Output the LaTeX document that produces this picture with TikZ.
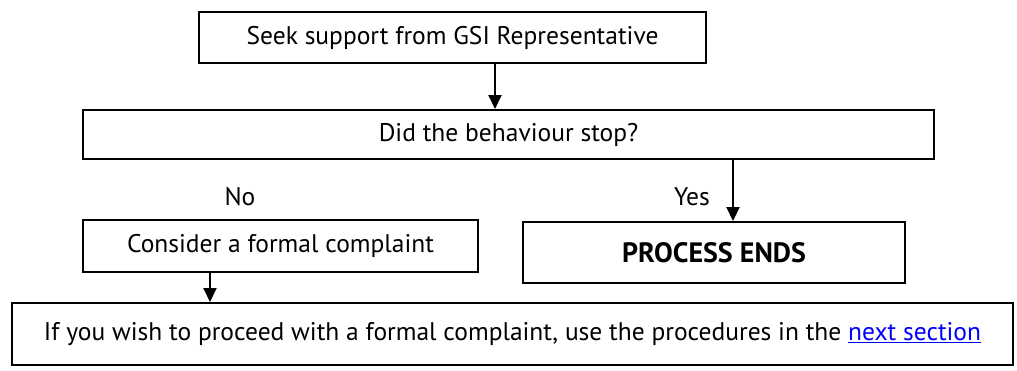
\documentclass[tikz,border=0pt]{standalone}
\usepackage{fontspec}
\setmainfont{PT Sans}
\usetikzlibrary{arrows.meta}
\definecolor{linkblue}{RGB}{0,0,255}
\tikzset{
  box/.style={draw=black, line width=2pt, rectangle, inner sep=0pt, anchor=center, font=\fontsize{25.5}{30}\selectfont},
  lbl/.style={inner sep=0pt, anchor=center, font=\fontsize{25.5}{30}\selectfont},
  arr/.style={line width=2pt, -{Triangle[width=13pt,length=14pt]}}
}
\begin{document}
\begin{tikzpicture}[x=1pt,y=-1pt]
\useasboundingbox (0,0) rectangle (1017,370);
\node[box, minimum width=507pt, minimum height=51pt] (seek) at (452.5,37.5) {Seek support from GSI Representative};
\node[box, minimum width=851pt, minimum height=49pt] (did) at (508.5,134.5) {Did the behaviour stop?};
\node[lbl] (no) at (240,197) {No};
\node[lbl] (yes) at (692,197) {Yes};
\node[box, minimum width=395pt, minimum height=52pt] (consider) at (280.5,246) {Consider a formal complaint};
\node[box, minimum width=382pt, minimum height=61pt, font=\fontsize{28}{32}\selectfont\bfseries] (ends) at (714,252.5) {PROCESS ENDS};
\node[box, minimum width=1001pt, minimum height=62pt] (proceed) at (512.5,334) {If you wish to proceed with a formal complaint, use the procedures in the \textcolor{linkblue}{\underline{next section}}};
\coordinate (c1) at (495,0);
\coordinate (c2) at (733,0);
\coordinate (c3) at (210,0);
\draw[arr] (seek.south -| c1) -- (did.north -| c1);
\draw[arr] (did.south -| c2) -- (ends.north -| c2);
\draw[arr] (consider.south -| c3) -- (proceed.north -| c3);
\end{tikzpicture}
\end{document}
